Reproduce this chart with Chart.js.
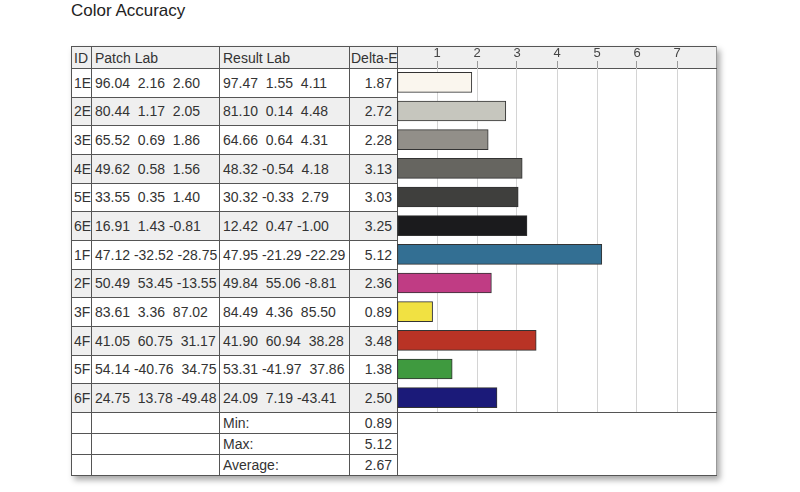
<!DOCTYPE html>
<html>
<head>
<meta charset="utf-8">
<script src="https://cdn.jsdelivr.net/npm/chart.js@4.4.0/dist/chart.umd.min.js"></script>
<style>
  body { margin: 0; background: #fff; font-family: "Liberation Sans", Arial, sans-serif; color: #333; }
  #title { position: absolute; left: 71px; top: 1px; font-size: 17px; color: #222; }
  #tbl { position: absolute; left: 71px; top: 46px; width: 645px; border-collapse: collapse; table-layout: fixed;
         box-shadow: 3px 4px 6px rgba(0,0,0,0.35); font-size: 14px; }
  #tbl td { border: 1px solid #555; padding: 0 3px; white-space: pre; overflow: hidden; }
  #tbl td.num { text-align: right; padding-right: 5px; }
  #tbl td.id { padding: 0 2px; }
  #tbl td.dh { padding: 0 0 0 1px; }
  #tbl tr.head td { background: #efefef; height: 21px; }
  #tbl tr.odd td.t { background: #efefef; }
  #tbl tr.data td { height: 27.67px; }
  #tbl tr.sum td { height: 20px; }
  #tbl td.chart { background: #fff; border-left-color: #555; border-right-color: #999; }
  #tbl tr.head td.chart { background: #efefef; }
  #cv { position: absolute; left: 397px; top: 46px; }
</style>
</head>
<body>
<div id="title">Color Accuracy</div>
<table id="tbl">
  <colgroup><col style="width:20px"><col style="width:128px"><col style="width:130px"><col style="width:48px"><col style="width:319px"></colgroup>
  <tbody id="body"></tbody>
</table>
<canvas id="cv" width="318" height="366"></canvas>
<script>
var patchIds  = ["1E","2E","3E","4E","5E","6E","1F","2F","3F","4F","5F","6F"];
var patchLab  = [[96.04,2.16,2.60],[80.44,1.17,2.05],[65.52,0.69,1.86],[49.62,0.58,1.56],[33.55,0.35,1.40],[16.91,1.43,-0.81],
                 [47.12,-32.52,-28.75],[50.49,53.45,-13.55],[83.61,3.36,87.02],[41.05,60.75,31.17],[54.14,-40.76,34.75],[24.75,13.78,-49.48]];
var resultLab = [[97.47,1.55,4.11],[81.10,0.14,4.48],[64.66,0.64,4.31],[48.32,-0.54,4.18],[30.32,-0.33,2.79],[12.42,0.47,-1.00],
                 [47.95,-21.29,-22.29],[49.84,55.06,-8.81],[84.49,4.36,85.50],[41.90,60.94,38.28],[53.31,-41.97,37.86],[24.09,7.19,-43.41]];
var deltaE    = [1.87,2.72,2.28,3.13,3.03,3.25,5.12,2.36,0.89,3.48,1.38,2.50];
var sumLabels = ["Min:","Max:","Average:"];
var sumValues = [0.89,5.12,2.67];
var barColors = ["#faf6ee","#c6c6be","#928f89","#666560","#3f3f3d","#1b1b1d",
                 "#336f93","#c03c84","#f1e142","#b93325","#3f9a3f","#1b1a79"];

function fmtLab(v) {
    var s = v[0].toFixed(2);
    for (var i = 1; i < v.length; i++) {
        s += " " + (v[i] < 0 ? "" : " ") + v[i].toFixed(2);
    }
    return s;
}

function buildTable() {
    var body = document.getElementById("body");
    var html = '<tr class="head"><td class="t id">ID</td><td class="t">Patch Lab</td><td class="t">Result Lab</td><td class="t dh">Delta-E</td><td class="chart"></td></tr>';
    for (var i = 0; i < patchIds.length; i++) {
        html += '<tr class="data' + (i % 2 ? ' odd' : '') + '">' +
            '<td class="t id">' + patchIds[i] + '</td>' +
            '<td class="t">' + fmtLab(patchLab[i]) + '</td>' +
            '<td class="t">' + fmtLab(resultLab[i]) + '</td>' +
            '<td class="t num">' + deltaE[i].toFixed(2) + '</td>' +
            (i == 0 ? '<td class="chart" rowspan="12"></td>' : '') + '</tr>';
    }
    for (var j = 0; j < sumLabels.length; j++) {
        html += '<tr class="sum"><td></td><td></td><td>' + sumLabels[j] + '</td><td class="num">' + sumValues[j].toFixed(2) + '</td>' +
            (j == 0 ? '<td class="chart" rowspan="3"></td>' : '') + '</tr>';
    }
    body.innerHTML = html;
}

buildTable();

var ctx = document.getElementById("cv").getContext('2d');
var chart = new Chart(ctx, {
    type: 'bar',
    data: {
        labels: patchIds,
        datasets: [{
            data: deltaE,
            backgroundColor: barColors,
            borderColor: "#333",
            borderWidth: 1,
            borderSkipped: false,
            barThickness: 20
        }]
    },
    options: {
        indexAxis: 'y',
        responsive: false,
        animation: false,
        layout: { padding: 0 },
        plugins: { legend: { display: false }, tooltip: { enabled: false } },
        scales: {
            x: {
                position: 'top',
                min: 0,
                max: 7.95,
                afterFit: function(s) { s.height = 22; },
                ticks: {
                    stepSize: 1,
                    includeBounds: false,
                    padding: 0,
                    color: "#444",
                    font: { size: 13, family: "'Liberation Sans', Arial, sans-serif" },
                    callback: function(v) { return v === 0 ? '' : v; }
                },
                grid: {
                    color: function(c) { return (c.tick && c.tick.value === 0) ? 'rgba(0,0,0,0)' : '#d4d4d4'; },
                    tickColor: function(c) { return (c.tick && c.tick.value === 0) ? 'rgba(0,0,0,0)' : '#999'; },
                    tickLength: 7,
                    lineWidth: 1
                },
                border: { display: false }
            },
            y: { display: false }
        }
    }
});
</script>
</body>
</html>
